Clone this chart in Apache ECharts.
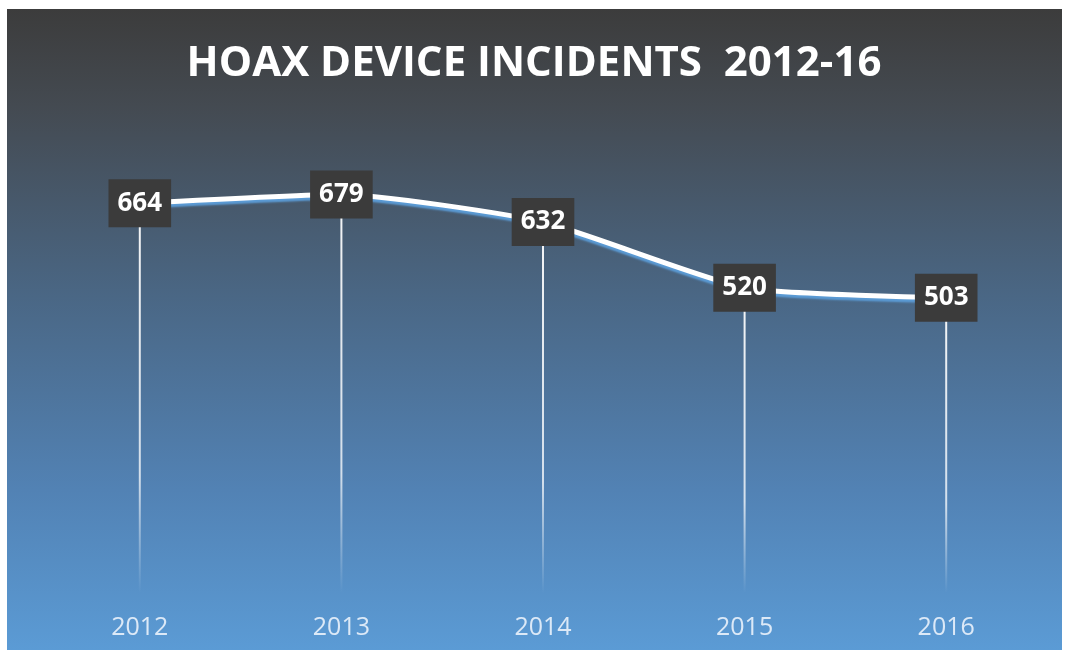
<!DOCTYPE html>
<html><head><meta charset="utf-8">
<style>html,body{margin:0;padding:0;background:#fff;}#c{width:1068px;height:655px;}</style>
<script src="https://cdn.jsdelivr.net/npm/echarts@6/dist/echarts.min.js"></script>
</head><body><div id="c"></div>
<script>
const years = ['2012', '2013', '2014', '2015', '2016'];
const incidents = [664, 679, 632, 520, 503];
const titleText = 'HOAX DEVICE INCIDENTS  2012-16';

const chart = echarts.init(document.getElementById('c'));
chart.setOption({
  animation: false,
  backgroundColor: '#ffffff',
  graphic: [{
    type: 'rect', z: -10, silent: true,
    shape: { x: 7, y: 9, width: 1055, height: 641 },
    style: {
      fill: new echarts.graphic.LinearGradient(0, 0, 0, 1, [
        { offset: 0, color: '#3c3c3c' },
        { offset: 0.15, color: '#444a51' },
        { offset: 0.45, color: '#4a6785' },
        { offset: 0.75, color: '#5282b4' },
        { offset: 1, color: '#5b9bd5' }
      ])
    }
  }],
  title: {
    text: titleText,
    left: 'center', top: 38,
    textStyle: { color: '#ffffff', fontFamily: 'Open Sans', fontWeight: 'bold', fontSize: 42 }
  },
  grid: { left: 39, right: 21, top: 123.4, bottom: 62 },
  xAxis: {
    type: 'category', data: years, boundaryGap: true,
    axisLine: { show: false }, axisTick: { show: false }, splitLine: { show: false },
    axisLabel: { color: '#dce9f7', fontFamily: 'Open Sans', fontSize: 25, margin: 22 }
  },
  yAxis: { type: 'value', min: 0, max: 800, show: false, splitLine: { show: false } },
  series: [{
    type: 'bar', data: incidents, barWidth: 2, z: 1, silent: true,
    itemStyle: {
      color: new echarts.graphic.LinearGradient(0, 0, 0, 1, [
        { offset: 0, color: 'rgba(255,255,255,0.95)' },
        { offset: 0.7, color: 'rgba(255,255,255,0.75)' },
        { offset: 1, color: 'rgba(255,255,255,0)' }
      ])
    }
  }, {
    type: 'line', data: incidents, z: 3, smooth: 0.18, showSymbol: true, symbol: 'circle', symbolSize: 2,
    itemStyle: { color: 'rgba(255,255,255,0)', borderWidth: 0 },
    lineStyle: { color: '#ffffff', width: 5, shadowColor: '#5b9bd5', shadowBlur: 2, shadowOffsetY: 3 },
    labelLayout: { hideOverlap: false },
    label: {
      show: true, position: 'inside', opacity: 1,
      color: '#ffffff', fontFamily: 'Open Sans', fontWeight: 'bold', fontSize: 26,
      backgroundColor: '#3b3b3b', padding: [7, 9, 7, 9], lineHeight: 34
    }
  }]
});
</script></body></html>
